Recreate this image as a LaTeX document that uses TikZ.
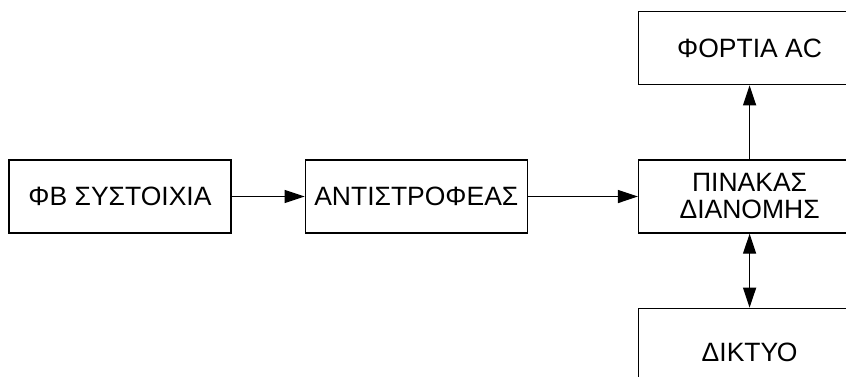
\documentclass[tikz,border=0pt]{standalone}
\usepackage{fontspec}
\setmainfont{Liberation Sans}
\usetikzlibrary{
    arrows.meta,
    positioning
}
\tikzset{
    every picture/.style = {
        > = {Triangle[length=20pt, width=13pt]},
        line width = 1.3pt
    },
    block/.style = {
        draw,
        rectangle,
        minimum width = 222pt,
        minimum height = 73pt,
        inner sep = 2pt,
        align = center,
        font = \fontsize{26.5}{27}\selectfont
    }
}

\begin{document}
\begin{tikzpicture}[x=1pt, y=1pt, node distance=73pt and 73pt]
    \useasboundingbox (0,0) rectangle (846,-376);
    \clip (0,0) rectangle (846,-376);
    % main chain
    \node[block] (pv) at (120,-196.5) {ΦΒ ΣΥΣΤΟΙΧΙΑ};
    \node[block, right=73pt of pv] (inv) {ΑΝΤΙΣΤΡΟΦΕΑΣ};
    \node[block, right=110pt of inv] (panel) {ΠΙΝΑΚΑΣ\\ΔΙΑΝΟΜΗΣ};
    % loads and grid
    \node[block, above=74pt of panel] (loads) {ΦΟΡΤΙΑ AC};
    \node[block, below=74pt of panel, text height=34pt, text depth=0pt] (grid) {ΔΙΚΤΥΟ};
    \draw[->] (pv) -- (inv);
    \draw[->] (inv) -- (panel);
    \draw[->] (panel) -- (loads);
    \draw[<->] (panel) -- (grid);
\end{tikzpicture}
\end{document}
